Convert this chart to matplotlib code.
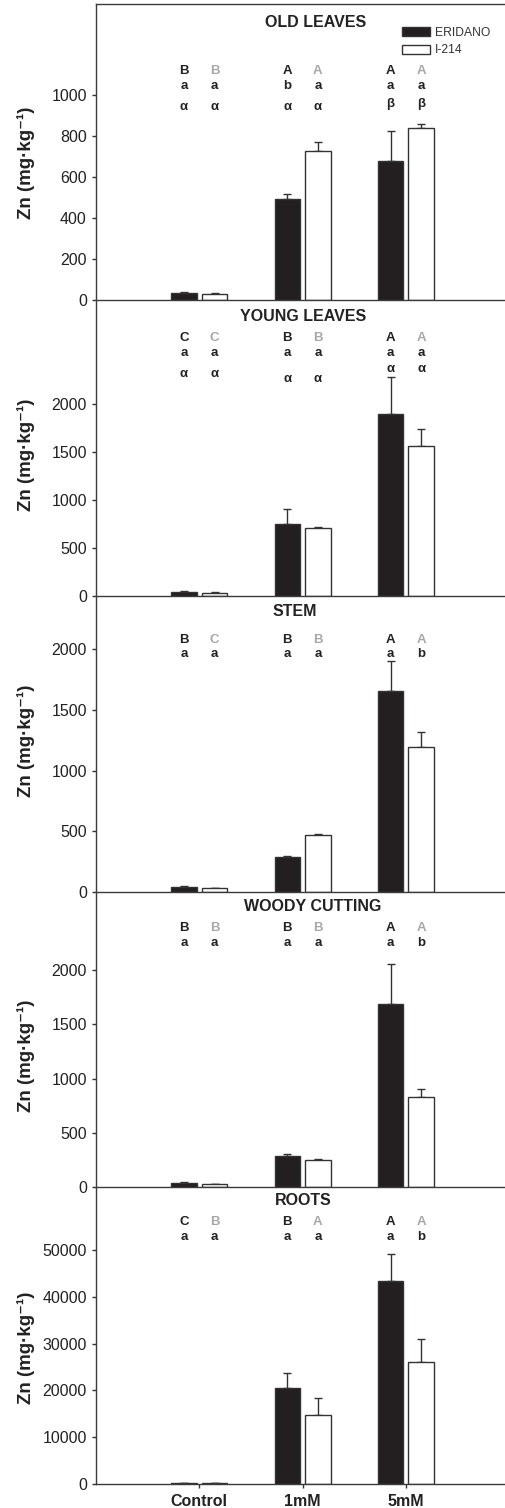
import matplotlib
matplotlib.use("Agg")
import matplotlib.pyplot as plt
import numpy as np

plt.rcParams['font.family'] = ['Liberation Sans', 'DejaVu Sans']

# ---- data -------------------------------------------------------------
groups = ['Control', '1mM', '5mM']
cultivars = ['ERIDANO', 'I-214']
panels = ['OLD LEAVES', 'YOUNG LEAVES', 'STEM', 'WOODY CUTTING', 'ROOTS']

old_leaves_eridano = [33, 493, 680]
old_leaves_eridano_se = [4, 25, 145]
old_leaves_i214 = [29, 725, 839]
old_leaves_i214_se = [4, 45, 22]

young_leaves_eridano = [38, 750, 1893]
young_leaves_eridano_se = [6, 150, 382]
young_leaves_i214 = [32, 705, 1563]
young_leaves_i214_se = [3, 10, 173]

stem_eridano = [44, 289, 1653]
stem_eridano_se = [8, 11, 250]
stem_i214 = [30, 473, 1191]
stem_i214_se = [3, 5, 126]

woody_eridano = [40, 288, 1689]
woody_eridano_se = [5, 16, 365]
woody_i214 = [28, 251, 828]
woody_i214_se = [3, 12, 74]

roots_eridano = [200, 20450, 43380]
roots_eridano_se = [60, 3330, 5700]
roots_i214 = [150, 14680, 26070]
roots_i214_se = [60, 3700, 4910]

# significance letters: (uppercase E, uppercase I, lowercase E, lowercase I, greek E, greek I)
old_leaves_letters = (['B', 'A', 'A'], ['B', 'A', 'A'], ['a', 'b', 'a'], ['a', 'a', 'a'],
                      ['α', 'α', 'β'], ['α', 'α', 'β'])
young_leaves_letters = (['C', 'B', 'A'], ['C', 'B', 'A'], ['a', 'a', 'a'], ['a', 'a', 'a'],
                        ['α', 'α', 'α'], ['α', 'α', 'α'])
stem_letters = (['B', 'B', 'A'], ['C', 'B', 'A'], ['a', 'a', 'a'], ['a', 'a', 'b'], None, None)
woody_letters = (['B', 'B', 'A'], ['B', 'B', 'A'], ['a', 'a', 'a'], ['a', 'a', 'b'], None, None)
roots_letters = (['C', 'B', 'A'], ['B', 'A', 'A'], ['a', 'a', 'a'], ['a', 'a', 'b'], None, None)

y_ticks = [np.arange(0, 1001, 200), np.arange(0, 2001, 500), np.arange(0, 2001, 500),
           np.arange(0, 2001, 500), np.arange(0, 50001, 10000)]
y_limits = [1444, 3080, 2442, 2717, 63400]

series = [
    (old_leaves_eridano, old_leaves_eridano_se, old_leaves_i214, old_leaves_i214_se, old_leaves_letters),
    (young_leaves_eridano, young_leaves_eridano_se, young_leaves_i214, young_leaves_i214_se, young_leaves_letters),
    (stem_eridano, stem_eridano_se, stem_i214, stem_i214_se, stem_letters),
    (woody_eridano, woody_eridano_se, woody_i214, woody_i214_se, woody_letters),
    (roots_eridano, roots_eridano_se, roots_i214, roots_i214_se, roots_letters),
]

# ---- layout (pixels on a 505 x 1508 canvas) ---------------------------
W, H = 505, 1508
panel_px = [(4, 300), (300, 595.7), (595.7, 892), (892, 1187.3), (1187.3, 1484)]
ax_left_px = 96
title_x = [2.13, 2.007, 1.92, 2.094, 2.007]
title_y = [0.921, 0.930, 0.930, 0.937, 0.940]
upper_y = [0.7645, 0.863, 0.841, 0.8666, 0.874]
lower_y = [0.714, 0.810, 0.792, 0.8168, 0.822]
greek_y = [[0.642, 0.642, 0.653], [0.741, 0.722, 0.756], None, None, None]
ylabel_y = [0.4645, 0.476, 0.511, 0.445, 0.46]

dark = '#231f20'
edge = '#333333'
grey_letter = '#a8a8a8'
x = np.arange(1, len(groups) + 1)
off = 0.148
bw = 0.247

fig = plt.figure(figsize=(W / 100, H / 100), dpi=100)

for i, (ve, se_e, vi, se_i, letters) in enumerate(series):
    top, bot = panel_px[i]
    ax = fig.add_axes([ax_left_px / W, 1 - bot / H, 1 - ax_left_px / W, (bot - top) / H])
    b1 = ax.bar(x - off, ve, bw, color=dark, edgecolor=edge, linewidth=1.0,
                label=cultivars[0], zorder=2)
    b2 = ax.bar(x + off, vi, bw, color='white', edgecolor=edge, linewidth=1.0,
                label=cultivars[1], zorder=2)
    ax.errorbar(x - off, ve, yerr=[np.zeros(3), se_e], fmt='none', ecolor=edge,
                elinewidth=1.0, capsize=3.2, capthick=1.0, zorder=1)
    ax.errorbar(x + off, vi, yerr=[np.zeros(3), se_i], fmt='none', ecolor=edge,
                elinewidth=1.0, capsize=3.2, capthick=1.0, zorder=1)

    ax.set_xlim(0, (W - ax_left_px) / 103.3)
    ax.set_ylim(0, y_limits[i])
    ax.set_yticks(y_ticks[i])
    ax.tick_params(axis='y', direction='out', length=3, width=1.0, pad=3.6,
                   labelsize=11.5, colors='#333333')
    ax.tick_params(axis='y', labelcolor='#222222')
    for s in ['left', 'bottom', 'top']:
        ax.spines[s].set_color('#3a3a3a')
        ax.spines[s].set_linewidth(1.0)
    ax.spines['right'].set_visible(False)
    if i != 0:
        ax.spines['top'].set_visible(False)
    ax.patch.set_alpha(0)

    if i == len(series) - 1:
        ax.set_xticks(x)
        ax.set_xticklabels(groups, fontweight='bold', fontsize=11.5, color='#222222')
        ax.tick_params(axis='x', direction='out', length=3, width=1.0, pad=4.5,
                       colors='#333333')
        ax.tick_params(axis='x', labelcolor='#222222')
    else:
        ax.set_xticks([])

    ax.set_ylabel('Zn (mg·kg⁻¹)', fontsize=13.5, fontweight='bold',
                  color='#222222')
    ax.yaxis.set_label_coords(-0.15, ylabel_y[i])

    tr = ax.get_xaxis_transform()
    ax.text(title_x[i], title_y[i], panels[i], transform=tr, ha='center',
            va='baseline', fontsize=11.5, fontweight='bold', color='#222222')

    up_e, up_i, lo_e, lo_i, gr_e, gr_i = letters
    for g in range(3):
        kw = dict(transform=tr, ha='center', va='baseline', fontsize=9.5, fontweight='bold')
        ax.text(x[g] - off, upper_y[i], up_e[g], color='#222222', **kw)
        ax.text(x[g] + off, upper_y[i], up_i[g], color=grey_letter, **kw)
        ax.text(x[g] - off, lower_y[i], lo_e[g], color='#222222', **kw)
        ax.text(x[g] + off, lower_y[i], lo_i[g], color='#222222', **kw)
        if gr_e is not None:
            ax.text(x[g] - off, greek_y[i][g], gr_e[g], color='#222222', **kw)
            ax.text(x[g] + off, greek_y[i][g], gr_i[g], color='#222222', **kw)

    if i == 0:
        leg = ax.legend(handles=[b1, b2], loc='upper left',
                        bbox_to_anchor=((402 - ax_left_px) / (W - ax_left_px), (bot - 27) / (bot - top)),
                        frameon=False, fontsize=8.7, handlelength=2.3, handleheight=0.75,
                        handletextpad=0.45, labelspacing=0.45, borderpad=0, borderaxespad=0)
        for t in leg.get_texts():
            t.set_color('#333333')

fig.savefig('out.png', dpi=100)
